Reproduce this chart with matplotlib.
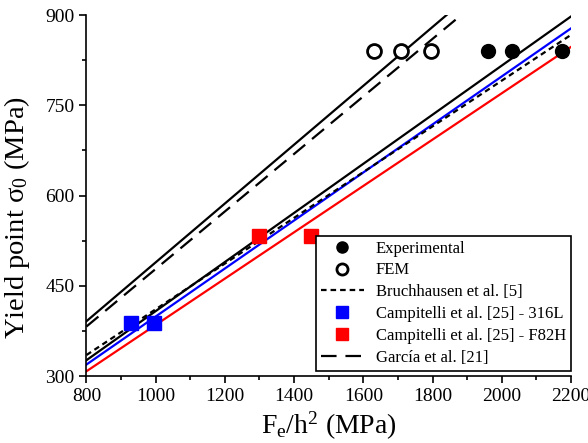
import numpy as np
import matplotlib.pyplot as plt
from matplotlib.ticker import MultipleLocator

plt.rcParams['font.family'] = ['Liberation Serif', 'DejaVu Serif']
plt.rcParams['mathtext.fontset'] = 'custom'
plt.rcParams['mathtext.rm'] = 'Liberation Serif'
plt.rcParams['mathtext.it'] = 'Liberation Serif:italic'
plt.rcParams['mathtext.default'] = 'regular'

# measured points
exp_x = [1960, 2030, 2175]
exp_y = [840, 840, 840]
fem_x = [1630, 1710, 1795]
fem_y = [840, 840, 840]
c316_x = [930, 995]
c316_y = [388, 388]
f82h_x = [1300, 1450]
f82h_y = [533, 533]

# fitted relations sigma = a + b * F/h^2
x_range = [800, 2200]
exp_fit = (0.0, 0.408)
fem_fit = (0.0, 0.489)
garcia_fit = (0.0, 0.478)
bruch_fit = (31.0, 0.38)
c316_fit = (0.0, 0.399)
f82h_fit = (0.0, 0.385)


def line(fit):
    xs = np.array(x_range, dtype=float)
    return xs, fit[0] + fit[1] * xs


fig = plt.figure(figsize=(5.88, 4.43), dpi=100)
ax = fig.add_axes([0.147, 0.151, 0.824, 0.815])

ax.plot(*line(fem_fit), color='black', lw=1.6)
ax.plot(*line(garcia_fit), color='black', lw=1.6, dashes=(7, 4),
        label='García et al. [21]')
ax.plot(*line(exp_fit), color='black', lw=1.6)
ax.plot(*line(c316_fit), color='blue', lw=1.6)
ax.plot(*line(bruch_fit), color='black', lw=1.6, dashes=(2.5, 1.8),
        label='Bruchhausen et al. [5]')
ax.plot(*line(f82h_fit), color='red', lw=1.6)

ax.plot(exp_x, exp_y, 'o', color='black', ms=10, label='Experimental')
ax.plot(fem_x, fem_y, 'o', mfc='white', mec='black', mew=2, ms=10, label='FEM')
ax.plot(c316_x, c316_y, 's', color='blue', ms=10,
        label='Campitelli et al. [25] - 316L')
ax.plot(f82h_x, f82h_y, 's', color='red', ms=10,
        label='Campitelli et al. [25] - F82H')

ax.set_xlim(800, 2200)
ax.set_ylim(300, 900)
ax.xaxis.set_major_locator(MultipleLocator(200))
ax.xaxis.set_minor_locator(MultipleLocator(100))
ax.yaxis.set_major_locator(MultipleLocator(150))
ax.yaxis.set_minor_locator(MultipleLocator(75))
ax.tick_params(which='major', direction='out', length=5, width=1.2, labelsize=14)
ax.tick_params(which='minor', direction='out', length=3, width=1.2)
ax.spines['top'].set_visible(False)
ax.spines['right'].set_visible(False)
ax.spines['left'].set_linewidth(1.2)
ax.spines['bottom'].set_linewidth(1.2)

ax.set_xlabel('F$_e$/h$^2$ (MPa)', fontsize=20)
ax.set_ylabel('Yield point σ$_0$ (MPa)', fontsize=20.5)
ax.xaxis.set_label_coords(0.5, -0.094)
ax.yaxis.set_label_coords(-0.1125, 0.44)

handles, labels = ax.get_legend_handles_labels()
order = ['Experimental', 'FEM', 'Bruchhausen et al. [5]',
         'Campitelli et al. [25] - 316L', 'Campitelli et al. [25] - F82H',
         'García et al. [21]']
hmap = dict(zip(labels, handles))
leg = ax.legend([hmap[k] for k in order], order, loc='lower right',
                bbox_to_anchor=(1.0, 0.015), fontsize=12, frameon=True,
                fancybox=False, edgecolor='black', handlelength=2.6,
                borderpad=0.3, labelspacing=0.35, handletextpad=0.7,
                borderaxespad=0, markerscale=0.8)
leg.get_frame().set_linewidth(1.2)
leg.get_frame().set_alpha(1)

fig.savefig('out.png', dpi=100)
